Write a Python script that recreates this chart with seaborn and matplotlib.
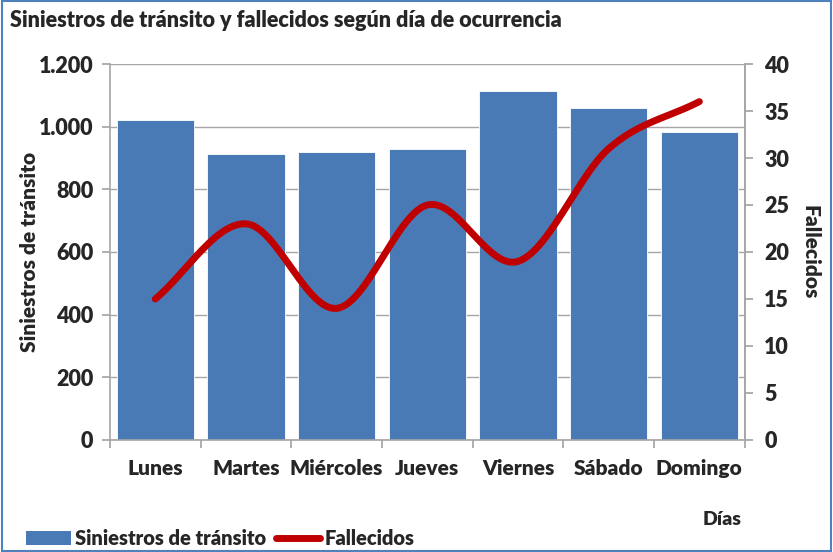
import numpy as np
import pandas as pd
import matplotlib
matplotlib.use("Agg")
import matplotlib.pyplot as plt
import seaborn as sns
from matplotlib.patches import Rectangle, Patch
from matplotlib.lines import Line2D

dias = ["Lunes", "Martes", "Miércoles", "Jueves", "Viernes", "Sábado", "Domingo"]
siniestros = [1020, 912, 919, 930, 1115, 1060, 982]
fallecidos = [15, 23, 14, 25, 19, 31, 36]

BAR = "#4A7AB5"
RED = "#C00000"
GRID = "#A6A6A6"
W = "heavy"

sns.set_theme(style="white")
plt.rcParams["font.family"] = ["Lato", "DejaVu Sans"]
plt.rcParams["font.weight"] = "bold"


def smooth(xs, ys, n=30):
    # Catmull-Rom style curve through the points (like Excel's smoothed line)
    px, py = [], []
    xs = np.asarray(xs, float)
    ys = np.asarray(ys, float)
    X = np.concatenate([[2 * xs[0] - xs[1]], xs, [2 * xs[-1] - xs[-2]]])
    Y = np.concatenate([[2 * ys[0] - ys[1]], ys, [2 * ys[-1] - ys[-2]]])
    for i in range(1, len(X) - 2):
        t = np.linspace(0, 1, n)
        for arr, out in ((X, px), (Y, py)):
            p0, p1, p2, p3 = arr[i - 1], arr[i], arr[i + 1], arr[i + 2]
            out.extend(0.5 * ((2 * p1) + (-p0 + p2) * t
                              + (2 * p0 - 5 * p1 + 4 * p2 - p3) * t ** 2
                              + (-p0 + 3 * p1 - 3 * p2 + p3) * t ** 3))
    return np.array(px), np.array(py)


df = pd.DataFrame({"dia": dias, "siniestros": siniestros, "fallecidos": fallecidos})

fig = plt.figure(figsize=(8.33, 5.52), dpi=100)
ax = fig.add_axes([0.132, 0.203, 0.762, 0.681])

sns.barplot(data=df, x="dia", y="siniestros", color=BAR, saturation=1,
            width=0.85, ax=ax, zorder=2)
for p in ax.patches:
    p.set_edgecolor("white")
    p.set_linewidth(0.6)

ax.set_ylim(0, 1200)
ax.set_xlim(-0.5, 6.5)
ax.set_yticks(range(0, 1201, 200))
ax.set_yticklabels([f"{v:,}".replace(",", ".") for v in range(0, 1201, 200)])
ax.yaxis.grid(True, color=GRID, linewidth=1, zorder=0)
ax.set_axisbelow(True)
ax.set_xticks(np.arange(-0.5, 7, 1), minor=False)
ax.set_xticklabels([])
ax.set_xticks(range(7), minor=True)
ax.set_xticklabels(dias, minor=True)
ax.tick_params(axis="x", which="minor", length=0, pad=14, labelsize=15)
ax.tick_params(axis="x", which="major", length=6, color=GRID, direction="out", bottom=True)
ax.tick_params(axis="y", length=6, color=GRID, direction="out", left=True, labelsize=15.5, pad=6)
for lbl in ax.get_xticklabels(minor=True) + ax.get_yticklabels():
    lbl.set_fontweight(W)
ax.set_xlabel("")
ax.set_ylabel("Siniestros de tránsito", fontsize=15, fontweight=W, labelpad=0)
for s in ["left", "bottom", "right"]:
    ax.spines[s].set_color(GRID)
    ax.spines[s].set_linewidth(1.2)
ax.spines["top"].set_visible(False)

ax2 = ax.twinx()
sx, sy = smooth(range(7), fallecidos)
ax2.plot(sx, sy, color=RED, linewidth=5, solid_capstyle="round", zorder=3)
ax2.set_ylim(0, 40)
ax2.set_yticks(range(0, 41, 5))
ax2.tick_params(axis="y", length=6, color=GRID, direction="out", right=True, labelsize=15.5, pad=8)
for lbl in ax2.get_yticklabels():
    lbl.set_fontweight(W)
ax2.set_ylabel("Fallecidos", fontsize=15, fontweight=W, rotation=270, labelpad=22)
for s in ["left", "bottom", "top"]:
    ax2.spines[s].set_visible(False)
ax2.spines["right"].set_color(GRID)
ax2.spines["right"].set_linewidth(1.2)
ax2.grid(False)

fig.text(0.012, 0.962, "Siniestros de tránsito y fallecidos según día de ocurrencia",
         fontsize=15.5, fontweight=W, ha="left", va="center")
fig.text(0.867, 0.058, "Días", fontsize=14, fontweight=W, ha="center", va="center")

handles = [Patch(facecolor=BAR, edgecolor="none"),
           Line2D([0], [0], color=RED, linewidth=5, solid_capstyle="round")]
fig.legend(handles, ["Siniestros de tránsito", "Fallecidos"], loc="lower left",
           bbox_to_anchor=(0.01, -0.025), ncol=2, frameon=False,
           handlelength=2.2, handletextpad=0.2, columnspacing=0.5,
           prop={"weight": W, "size": 14.5})

fig.patches.append(Rectangle((0.002, 0.002), 0.996, 0.996, transform=fig.transFigure,
                             fill=False, edgecolor="#4F81BD", linewidth=1.5))

fig.savefig("out.png", dpi=100, facecolor="white")
